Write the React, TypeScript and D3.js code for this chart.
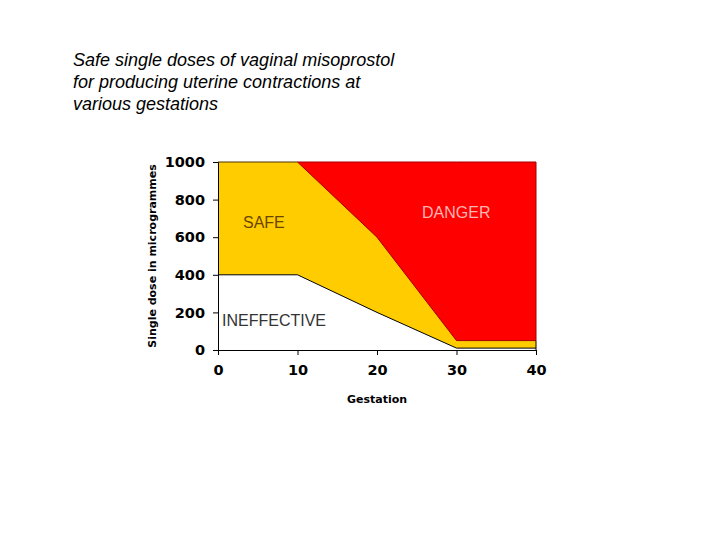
import React, { useEffect, useRef } from "react";
import * as d3 from "d3";

// Gestation (weeks) and the two dose boundaries (micrograms)
const gestation = [0, 10, 20, 30, 40];
const ineffectiveLimit = [400, 400, 200, 10, 10];
const dangerLimit = [1000, 1000, 600, 50, 50];
const xTicks = [0, 10, 20, 30, 40];
const yTicks = [0, 200, 400, 600, 800, 1000];
const titleLines = [
  "Safe single doses of vaginal misoprostol",
  "for producing uterine contractions at",
  "various gestations",
];

type Pt = { g: number; low: number; high: number };

const App: React.FC = () => {
  const svgRef = useRef<SVGSVGElement>(null);

  useEffect(() => {
    if (!svgRef.current) return;
    const svg = d3.select(svgRef.current);
    svg.selectAll("*").remove();

    const x = d3.scaleLinear().domain([0, 40]).range([218, 536]);
    const y = d3.scaleLinear().domain([0, 1000]).range([350, 162]);

    const pts: Pt[] = gestation.map((g, i) => ({
      g,
      low: ineffectiveLimit[i],
      high: dangerLimit[i],
    }));

    // title
    svg
      .append("g")
      .selectAll("text")
      .data(titleLines)
      .join("text")
      .attr("x", 73)
      .attr("y", (_, i) => 66 + i * 22)
      .attr("font-family", "Liberation Sans, Arial, sans-serif")
      .attr("font-style", "italic")
      .attr("font-size", 18)
      .attr("fill", "#000")
      .text((d) => d);

    // safe zone (yellow) between ineffective line and the top
    const yellow = d3
      .area<Pt>()
      .x((d) => x(d.g))
      .y0((d) => y(d.low))
      .y1(() => y(1000));
    svg
      .append("path")
      .datum(pts)
      .attr("fill", "#FFCC00")
      .attr("d", yellow);

    // danger zone (red) above the danger line
    const red = d3
      .area<Pt>()
      .x((d) => x(d.g))
      .y0((d) => y(d.high))
      .y1(() => y(1000));
    svg
      .append("path")
      .datum(pts.filter((d) => d.g >= 10))
      .attr("fill", "#FF0000")
      .attr("stroke", "#A00000")
      .attr("stroke-width", 1)
      .attr("d", red);

    // boundary lines
    const lowLine = d3
      .line<Pt>()
      .x((d) => x(d.g))
      .y((d) => y(d.low));
    svg
      .append("path")
      .datum(pts)
      .attr("fill", "none")
      .attr("stroke", "#000")
      .attr("stroke-width", 1)
      .attr("d", lowLine);

    svg
      .append("line")
      .attr("x1", x(0))
      .attr("x2", x(10))
      .attr("y1", y(1000))
      .attr("y2", y(1000))
      .attr("stroke", "#4a3300")
      .attr("stroke-width", 1);

    svg
      .append("line")
      .attr("x1", x(40))
      .attr("x2", x(40))
      .attr("y1", y(50))
      .attr("y2", y(0))
      .attr("stroke", "#000")
      .attr("stroke-width", 1);

    // axes
    const axisFont = "DejaVu Sans, Verdana, sans-serif";
    const yAxis = svg
      .append("g")
      .attr("transform", `translate(${x(0)},0)`)
      .call(
        d3
          .axisLeft(y)
          .tickValues(yTicks)
          .tickFormat(d3.format("d"))
          .tickSize(5)
          .tickPadding(8)
      );
    const xAxis = svg
      .append("g")
      .attr("transform", `translate(0,${y(0)})`)
      .call(
        d3
          .axisBottom(x)
          .tickValues(xTicks)
          .tickFormat(d3.format("d"))
          .tickSize(5)
          .tickPadding(10)
      );
    [yAxis, xAxis].forEach((a) => {
      a.select(".domain").attr("stroke", "#000");
      a.selectAll("line").attr("stroke", "#000");
      a.selectAll("text")
        .attr("font-family", axisFont)
        .attr("font-weight", "bold")
        .attr("font-size", 14.5)
        .attr("fill", "#000");
    });

    // axis titles
    svg
      .append("text")
      .attr("transform", `translate(156,${(y(0) + y(1000)) / 2}) rotate(-90)`)
      .attr("text-anchor", "middle")
      .attr("font-family", axisFont)
      .attr("font-weight", "bold")
      .attr("font-size", 11)
      .text("Single dose in microgrammes");
    svg
      .append("text")
      .attr("x", (x(0) + x(40)) / 2)
      .attr("y", 403)
      .attr("text-anchor", "middle")
      .attr("font-family", axisFont)
      .attr("font-weight", "bold")
      .attr("font-size", 11)
      .text("Gestation");

    // zone labels
    const labelFont = "Liberation Sans, Arial, sans-serif";
    svg
      .append("text")
      .attr("x", 243)
      .attr("y", 228)
      .attr("font-family", labelFont)
      .attr("font-size", 16)
      .attr("fill", "#6b4400")
      .text("SAFE");
    svg
      .append("text")
      .attr("x", 422)
      .attr("y", 218)
      .attr("font-family", labelFont)
      .attr("font-size", 16)
      .attr("fill", "#FFB3B3")
      .text("DANGER");
    svg
      .append("text")
      .attr("x", 222)
      .attr("y", 326)
      .attr("font-family", labelFont)
      .attr("font-size", 16)
      .attr("fill", "#333")
      .text("INEFFECTIVE");
  }, []);

  return (
    <svg
      ref={svgRef}
      width={720}
      height={540}
      style={{ position: "absolute", left: 0, top: 0, background: "#fff" }}
    ></svg>
  );
};

export default App;
